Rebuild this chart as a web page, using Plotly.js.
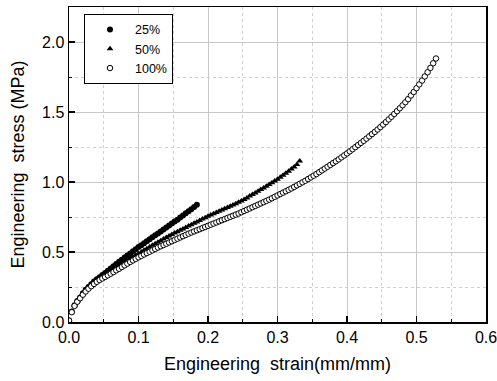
<!DOCTYPE html>
<html>
<head>
<meta charset="utf-8">
<script src="https://cdn.plot.ly/plotly-3.0.1.min.js"></script>
<style>html,body{margin:0;padding:0;background:#fff;}#chart{width:497px;height:381px;}</style>
</head>
<body>
<div id="chart"></div>
<script>
// Series labels
const seriesNames = ["25%", "50%", "100%"];
// Strain sampling: first strain value and spacing between successive points (mm/mm)
const strainStart = 0;
const strainStep = 0.004;

// Engineering stress (MPa) for each series at each strain step
const stress25 = [
  0.01, 0.075, 0.12, 0.15, 0.175, 0.205, 0.23, 0.25, 0.27, 0.29, 0.305, 0.32, 0.335,
  0.35, 0.366, 0.382, 0.398, 0.414, 0.43, 0.445, 0.46, 0.475, 0.49, 0.505, 0.52, 0.535,
  0.549, 0.563, 0.577, 0.591, 0.605, 0.619, 0.633, 0.647, 0.661, 0.675, 0.689, 0.703,
  0.717, 0.731, 0.746, 0.761, 0.776, 0.791, 0.806, 0.821, 0.837
];
const stress50 = [
  0.01, 0.075, 0.12, 0.15, 0.175, 0.205, 0.23, 0.25, 0.27, 0.288, 0.303, 0.318, 0.332,
  0.345, 0.358, 0.371, 0.384, 0.396, 0.408, 0.42, 0.432, 0.444, 0.455, 0.466, 0.477, 0.488,
  0.5, 0.512, 0.524, 0.536, 0.548, 0.559, 0.57, 0.581, 0.592, 0.603, 0.614, 0.625, 0.635,
  0.645, 0.655, 0.665, 0.675, 0.685, 0.695, 0.705, 0.715, 0.725, 0.735, 0.745, 0.755,
  0.764, 0.773, 0.782, 0.791, 0.8, 0.809, 0.818, 0.827, 0.836, 0.845, 0.855, 0.865, 0.875,
  0.885, 0.9, 0.911, 0.922, 0.934, 0.946, 0.958, 0.97, 0.982, 0.994, 1.007, 1.02, 1.034,
  1.048, 1.062, 1.077, 1.092, 1.108, 1.125, 1.15
];
const stress100 = [
  0.01, 0.07, 0.115, 0.145, 0.17, 0.195, 0.218, 0.238, 0.256, 0.272, 0.287, 0.3, 0.311,
  0.322, 0.333, 0.345, 0.357, 0.369, 0.38, 0.393, 0.405, 0.417, 0.429, 0.44, 0.451, 0.462,
  0.472, 0.482, 0.492, 0.502, 0.512, 0.522, 0.532, 0.541, 0.55, 0.559, 0.568, 0.577, 0.586,
  0.595, 0.604, 0.613, 0.622, 0.631, 0.639, 0.647, 0.655, 0.663, 0.671, 0.679, 0.687,
  0.695, 0.703, 0.711, 0.719, 0.727, 0.735, 0.743, 0.751, 0.759, 0.767, 0.775, 0.784,
  0.793, 0.802, 0.811, 0.82, 0.829, 0.838, 0.847, 0.856, 0.865, 0.874, 0.884, 0.894, 0.904,
  0.914, 0.924, 0.934, 0.944, 0.954, 0.965, 0.976, 0.987, 0.998, 1.009, 1.021, 1.033,
  1.045, 1.057, 1.07, 1.083, 1.096, 1.109, 1.122, 1.135, 1.148, 1.162, 1.176, 1.19, 1.204,
  1.219, 1.234, 1.249, 1.264, 1.279, 1.294, 1.31, 1.326, 1.342, 1.358, 1.375, 1.392, 1.41,
  1.428, 1.447, 1.466, 1.486, 1.506, 1.527, 1.548, 1.57, 1.592, 1.618, 1.643, 1.67, 1.697,
  1.725, 1.754, 1.784, 1.815, 1.848, 1.882
];

const xTickVals = [0, 0.1, 0.2, 0.3, 0.4, 0.5, 0.6];
const xTickText = ["0.0", "0.1", "0.2", "0.3", "0.4", "0.5", "0.6"];
const yTickVals = [0, 0.5, 1.0, 1.5, 2.0];
const yTickText = ["0.0", "0.5", "1.0", "1.5", "2.0"];

const FONT = "Liberation Sans, Arial, Helvetica, sans-serif";

const traces = [
  {
    name: seriesNames[0], y: stress25, x0: strainStart, dx: strainStep,
    type: "scatter", mode: "markers",
    marker: {symbol: "circle", size: 6, color: "#000"}
  },
  {
    name: seriesNames[1], y: stress50, x0: strainStart, dx: strainStep,
    type: "scatter", mode: "markers",
    marker: {symbol: "triangle-up", size: 6, color: "#000"}
  },
  {
    name: seriesNames[2], y: stress100, x0: strainStart, dx: strainStep,
    type: "scatter", mode: "markers",
    marker: {symbol: "circle", size: 5.5, color: "#fff", line: {color: "#000", width: 1}}
  }
];

const layout = {
  width: 497, height: 381,
  margin: {l: 69, r: 11, t: 7, b: 59},
  paper_bgcolor: "#fff", plot_bgcolor: "#fff",
  font: {family: FONT, color: "#000", size: 16},
  showlegend: true,
  legend: {
    x: 0.036, y: 0.978, xanchor: "left", yanchor: "top",
    bgcolor: "#fff", bordercolor: "#000", borderwidth: 1,
    font: {family: FONT, size: 12.5, color: "#000"},
    itemwidth: 40, tracegroupgap: 0
  },
  xaxis: {
    range: [0, 0.6], tickvals: xTickVals, ticktext: xTickText,
    ticklabeloverflow: "allow",
    ticks: "inside", ticklen: 6, tickwidth: 1.5, tickcolor: "#000",
    showline: true, linecolor: "#000", linewidth: 1.5, mirror: true,
    showgrid: true, gridcolor: "#c8c8c8", gridwidth: 1, zeroline: false,
    tickfont: {family: FONT, size: 16, color: "#000"},
    minor: {dtick: 0.05, tick0: 0, ticks: "inside", ticklen: 3, tickcolor: "#000", tickwidth: 1,
            showgrid: true, gridcolor: "#d0d0d0", griddash: "dot", gridwidth: 1},
    title: {text: "Engineering\u00a0\u00a0strain(mm/mm)", font: {family: FONT, size: 18, color: "#000"}, standoff: 12}
  },
  yaxis: {
    range: [0, 2.25], tickvals: yTickVals, ticktext: yTickText,
    ticks: "inside", ticklen: 6, tickwidth: 1.5, tickcolor: "#000",
    showline: true, linecolor: "#000", linewidth: 1.5, mirror: true,
    showgrid: true, gridcolor: "#c8c8c8", gridwidth: 1, zeroline: false,
    tickfont: {family: FONT, size: 16, color: "#000"},
    minor: {dtick: 0.25, tick0: 0, ticks: "inside", ticklen: 3, tickcolor: "#000", tickwidth: 1,
            showgrid: true, gridcolor: "#d0d0d0", griddash: "dot", gridwidth: 1},
    title: {text: "Engineering\u00a0\u00a0stress (MPa)", font: {family: FONT, size: 18, color: "#000"}, standoff: 12}
  }
};

Plotly.newPlot("chart", traces, layout, {staticPlot: true, displayModeBar: false});
</script>
</body>
</html>
